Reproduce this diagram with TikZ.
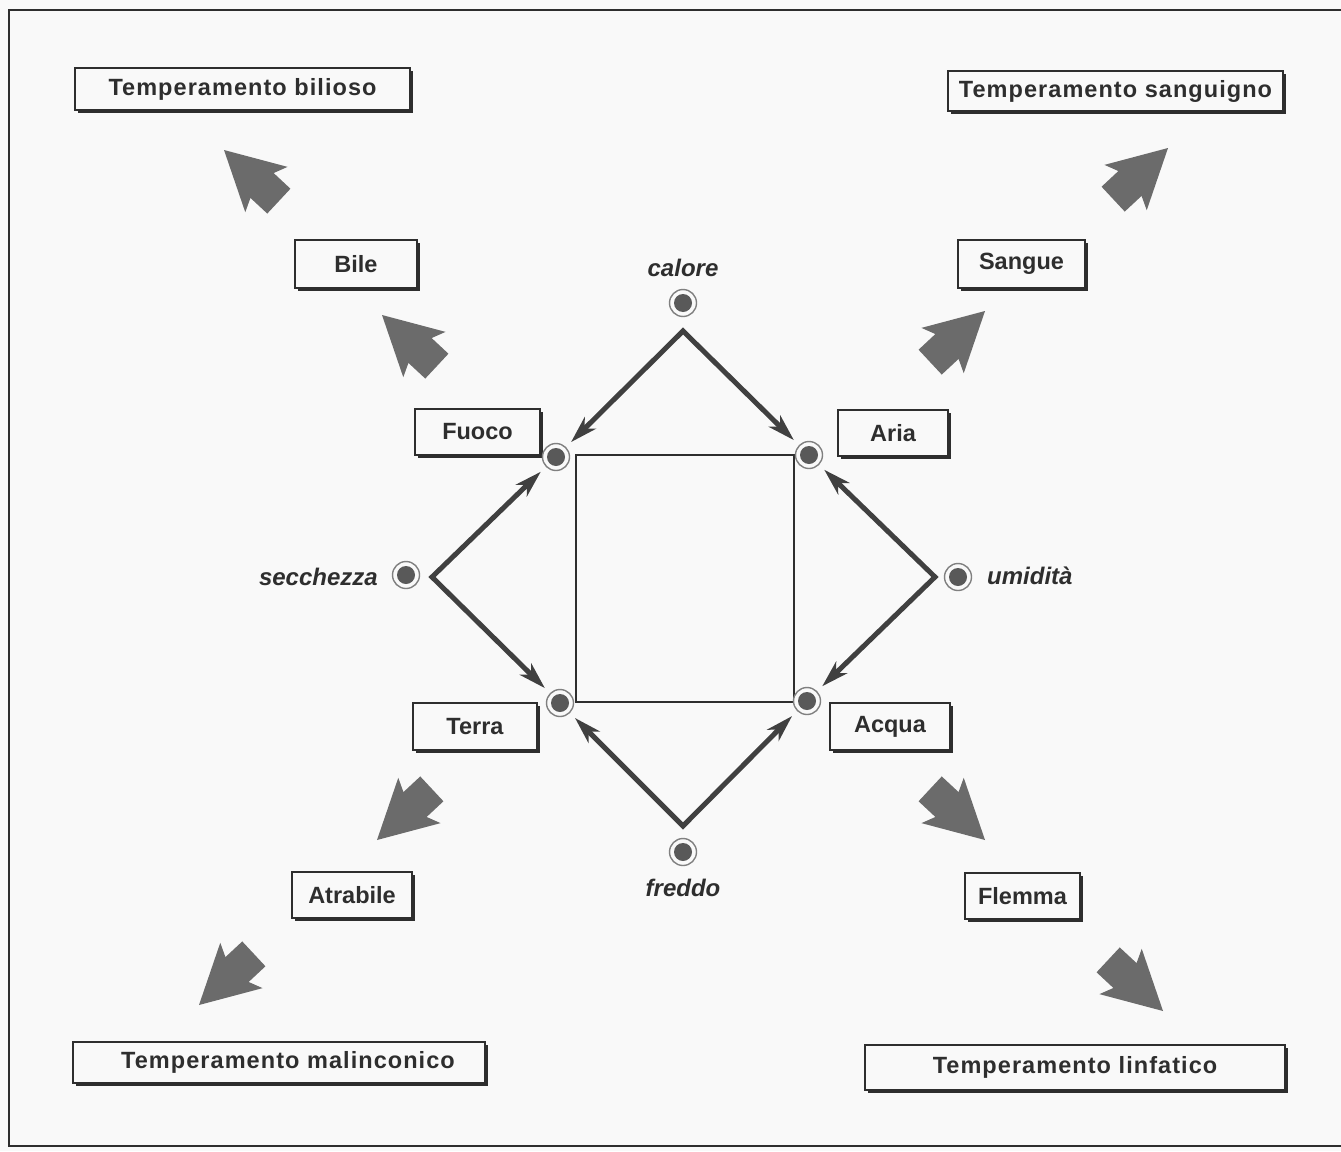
\documentclass[tikz,border=0pt]{standalone}
\usepackage{fontspec}
\setmainfont{Liberation Sans}
\newfontfamily\tempfont{Liberation Sans}[LetterSpace=4.5]
\usetikzlibrary{arrows.meta,shadows}
\definecolor{ink}{gray}{0.18}
\definecolor{arrowink}{gray}{0.25}
\definecolor{paper}{gray}{0.975}
\definecolor{bigfill}{gray}{0.42}
\definecolor{dotfill}{gray}{0.35}
\definecolor{ringcol}{gray}{0.5}
\tikzset{
  boxshadow/.style={drop shadow={shadow xshift=2.5pt, shadow yshift=-2.5pt, opacity=1, fill=ink}},
  box/.style={draw=ink, line width=1.3pt, fill=paper, inner sep=0pt, text=ink,
    font=\fontsize{23.5}{28}\selectfont\bfseries, boxshadow},
  tbox/.style={box, font=\tempfont\fontsize{23.5}{28}\selectfont\bfseries},
  lab/.style={inner sep=0pt, text=ink, font=\fontsize{24}{28}\selectfont\bfseries\itshape},
  dot/.style={circle, draw=ringcol, line width=1.4pt, fill=paper, minimum size=27pt, inner sep=0pt,
    path picture={\fill[dotfill] (path picture bounding box.center) circle (9pt);}},
  thinarrow/.style={draw=arrowink, line width=5pt, line join=miter,
    {Stealth[length=27pt,width=16pt,inset=8pt]}-{Stealth[length=27pt,width=16pt,inset=8pt]},
    shorten <=7pt, shorten >=7pt},
  bigarrow/.pic={\fill[bigfill] (0,0) -- (-58,31) -- (-52,17) -- (-75,17) -- (-75,-17) -- (-52,-17) -- (-58,-31) -- cycle;}
}
\begin{document}
\begin{tikzpicture}[x=1pt,y=-1pt]
\useasboundingbox[fill=paper] (0,0) rectangle (1341,1151);
% frame
\draw[ink, line width=2pt] (1341,10) -- (9,10) -- (9,1146) -- (1341,1146);

% temperament boxes
\node[tbox, minimum width=335pt, minimum height=42pt] (tb) at (242.5,89) {Temperamento bilioso};
\node[tbox, minimum width=335pt, minimum height=40pt] (ts) at (1115.5,91) {Temperamento sanguigno};
\node[tbox, minimum width=412pt, minimum height=41pt] (tm) at (279,1062.5) {\hspace*{18pt}Temperamento malinconico};
\node[tbox, minimum width=420pt, minimum height=45pt] (tl) at (1075,1067.5) {Temperamento linfatico};

% humour boxes
\node[box, minimum width=122pt, minimum height=48pt] (bile) at (356,264) {Bile};
\node[box, minimum width=127pt, minimum height=48pt] (sangue) at (1021.5,264) {Sangue};
\node[box, minimum width=120pt, minimum height=46pt] (atra) at (352,895) {Atrabile};
\node[box, minimum width=115pt, minimum height=46pt] (flem) at (1022.5,896) {Flemma};

% element boxes
\node[box, minimum width=125pt, minimum height=46pt] (fuoco) at (477.5,432) {Fuoco};
\node[box, minimum width=110pt, minimum height=46pt] (aria) at (893,433) {Aria};
\node[box, minimum width=124pt, minimum height=47pt] (terra) at (475,726.5) {Terra};
\node[box, minimum width=120pt, minimum height=47pt] (acqua) at (890,726.5) {Acqua};

% central square
\node[draw=ink, line width=1.5pt, minimum width=218pt, minimum height=247pt, inner sep=0pt] (sq) at (685,578.5) {};

% dots
\node[dot] (dC) at (683,303) {};
\node[dot] (dF) at (556,457) {};
\node[dot] (dA) at (809,455) {};
\node[dot] (dS) at (406,575) {};
\node[dot] (dU) at (958,577) {};
\node[dot] (dT) at (560,703) {};
\node[dot] (dQ) at (807,701) {};
\node[dot] (dD) at (683,852) {};

% quality labels
\node[lab] (lC) at (683,268) {calore};
\node[lab, anchor=east] (lS) at (378,577) {secchezza};
\node[lab, anchor=west] (lU) at (987,576) {umidità};
\node[lab] (lD) at (683,888) {freddo};

% apexes
\coordinate (aC) at (683,331);
\coordinate (aS) at (432,577);
\coordinate (aU) at (935,577);
\coordinate (aD) at (683,826);

\draw[thinarrow] (dF) -- (aC) -- (dA);
\draw[thinarrow] (dF) -- (aS) -- (dT);
\draw[thinarrow] (dA) -- (aU) -- (dQ);
\draw[thinarrow] (dT) -- (aD) -- (dQ);

% big arrows
\pic[rotate=137] at (224,150) {bigarrow};
\pic[rotate=43] at (1168,148) {bigarrow};
\pic[rotate=137] at (382,315) {bigarrow};
\pic[rotate=43] at (985,311) {bigarrow};
\pic[rotate=223] at (377,840) {bigarrow};
\pic[rotate=317] at (985,840) {bigarrow};
\pic[rotate=223] at (199,1005) {bigarrow};
\pic[rotate=317] at (1163,1011) {bigarrow};
\end{tikzpicture}
\end{document}
